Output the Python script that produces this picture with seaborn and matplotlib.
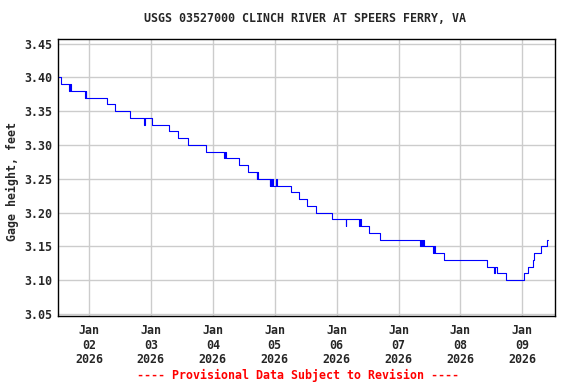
import numpy as np
import pandas as pd
import matplotlib
matplotlib.use("Agg")
import matplotlib.pyplot as plt
import matplotlib.dates as mdates
import seaborn as sns

# gage height, step changes (15-min data, only change points kept)
change_times = [
    "2026-01-01 12:00", "2026-01-01 13:00", "2026-01-01 16:15", "2026-01-01 16:30",
    "2026-01-01 17:00", "2026-01-01 22:30", "2026-01-01 22:45", "2026-01-01 23:00",
    "2026-01-02 07:00", "2026-01-02 10:00", "2026-01-02 16:00", "2026-01-02 21:30",
    "2026-01-02 21:45", "2026-01-03 00:15", "2026-01-03 07:00", "2026-01-03 10:30",
    "2026-01-03 14:30", "2026-01-03 21:30", "2026-01-04 04:30", "2026-01-04 04:45",
    "2026-01-04 05:15", "2026-01-04 10:00", "2026-01-04 13:30", "2026-01-04 17:00",
    "2026-01-04 17:15", "2026-01-04 17:30", "2026-01-04 22:00", "2026-01-04 22:15",
    "2026-01-04 22:45", "2026-01-04 23:00", "2026-01-04 23:15", "2026-01-05 00:30",
    "2026-01-05 00:45", "2026-01-05 06:15", "2026-01-05 09:30", "2026-01-05 12:30",
    "2026-01-05 16:00", "2026-01-05 22:15", "2026-01-06 03:30", "2026-01-06 03:45",
    "2026-01-06 08:30", "2026-01-06 09:15", "2026-01-06 09:30", "2026-01-06 12:45",
    "2026-01-06 16:45", "2026-01-07 08:30", "2026-01-07 08:45", "2026-01-07 09:00",
    "2026-01-07 09:30", "2026-01-07 09:45", "2026-01-07 13:30", "2026-01-07 13:45",
    "2026-01-07 14:00", "2026-01-07 17:30", "2026-01-08 10:15", "2026-01-08 13:00",
    "2026-01-08 13:15", "2026-01-08 14:15", "2026-01-08 17:45", "2026-01-09 00:30",
    "2026-01-09 02:15", "2026-01-09 04:15", "2026-01-09 04:30", "2026-01-09 07:15",
    "2026-01-09 09:30", "2026-01-09 10:00",
]
gage_ft = [
    3.40, 3.39, 3.38, 3.39,
    3.38, 3.37, 3.38, 3.37,
    3.36, 3.35, 3.34, 3.33,
    3.34, 3.33, 3.32, 3.31,
    3.30, 3.29, 3.28, 3.29,
    3.28, 3.27, 3.26, 3.25,
    3.26, 3.25, 3.24, 3.25,
    3.24, 3.25, 3.24, 3.25,
    3.24, 3.23, 3.22, 3.21,
    3.20, 3.19, 3.18, 3.19,
    3.18, 3.19, 3.18, 3.17,
    3.16, 3.15, 3.16, 3.15,
    3.16, 3.15, 3.14, 3.15,
    3.14, 3.13, 3.12, 3.11,
    3.12, 3.11, 3.10, 3.11,
    3.12, 3.13, 3.14, 3.15,
    3.16, 3.16,
]
y_ticks = [3.05, 3.10, 3.15, 3.20, 3.25, 3.30, 3.35, 3.40, 3.45]

df = pd.DataFrame({"time": pd.to_datetime(change_times), "gage": gage_ft})

sns.set_style("white")
plt.rcParams["font.family"] = ["DejaVu Sans Mono"]
plt.rcParams["font.weight"] = "bold"
fs = 8.4

fig = plt.figure(figsize=(5.76, 3.84), dpi=100)
ax = fig.add_axes([58 / 576, 1 - 316 / 384, 497 / 576, 277 / 384])

sns.lineplot(data=df, x="time", y="gage", ax=ax, color="#0000ff", linewidth=0.8,
             drawstyle="steps-post", estimator=None)

ax.set_xlim(pd.Timestamp("2026-01-01 12:00"), pd.Timestamp("2026-01-09 12:40"))
ax.set_ylim(3.047, 3.4567)
ax.set_yticks(y_ticks)
ax.set_yticklabels([f"{v:.2f}" for v in y_ticks], fontsize=fs, fontweight="bold")
ax.xaxis.set_major_locator(mdates.DayLocator(bymonthday=range(2, 10)))
ax.xaxis.set_major_formatter(mdates.DateFormatter("%b\n%d\n%Y"))
for lab in ax.get_xticklabels():
    lab.set_fontsize(fs)
    lab.set_fontweight("bold")
    lab.set_linespacing(1.15)
ax.tick_params(axis="both", length=0)
ax.tick_params(axis="x", pad=6)
ax.tick_params(axis="y", pad=4)
ax.grid(True, color="#cccccc", linewidth=1.0)
ax.set_axisbelow(True)
for s in ax.spines.values():
    s.set_color("black")
    s.set_linewidth(1.0)
ax.set_xlabel("")
ax.set_ylabel("")

fig.text(0.53, 1 - 19 / 384, "USGS 03527000 CLINCH RIVER AT SPEERS FERRY, VA",
         ha="center", va="center", fontsize=fs, fontweight="bold")
fig.text(12 / 576, 1 - 181 / 384, "Gage height, feet", rotation=90,
         ha="center", va="center", fontsize=fs, fontweight="bold")
fig.text(298 / 576, 1 - 375 / 384, "---- Provisional Data Subject to Revision ----",
         ha="center", va="center", fontsize=fs, fontweight="bold", color="red")

fig.savefig("out.png", dpi=100)
